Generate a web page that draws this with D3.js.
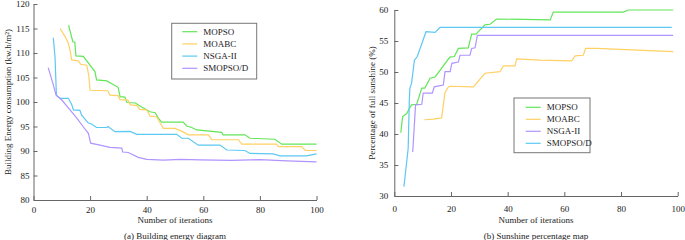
<!DOCTYPE html>
<html>
<head>
<meta charset="utf-8">
<script src="https://cdn.jsdelivr.net/npm/d3@7"></script>
<style>
    body { margin: 0; background: #fff; }
    text { font-family: "Liberation Serif", "Times New Roman", serif; fill: #222; }
    .axis path, .axis line { stroke: #666; }
</style>
</head>
<body>
<div id="chart"></div>
<script>
// ---- data ([iteration, value]) ----
const algorithms = ["MOPSO", "MOABC", "NSGA-II", "SMOPSO/D"];

// (a) building energy consumption
const energyMOPSO = [[12.4,115.7],[13.9,112.3],[14.6,112.2],[15,109.4],[17.6,109.3],[21.7,106.2],[22.3,104.5],[25.9,104.3],[29.9,103],[30.6,101.1],[32.3,101],[33,99.9],[36,99.8],[38.2,99.0],[41.2,98.0],[43,97.8],[44.1,96.7],[45.3,95.9],[52.9,95.9],[54.1,95.1],[55.9,94.8],[57.7,94.3],[66.5,93.8],[67,93.3],[74.7,93.3],[76.5,92.6],[85.3,92.4],[87.7,91.4],[100,91.4]];
const energyMOABC = [[9.4,115],[11.2,113.3],[12.3,112],[12.9,110.6],[13.5,108.6],[15.8,108.4],[16.7,107.7],[18.8,107.5],[19.5,105.5],[20,102.4],[26.2,102.3],[27,101.4],[29.9,101.3],[30.6,100.5],[33.4,100.4],[34.2,99.4],[36.5,99.3],[37.5,98.5],[40,98.4],[41.2,97.1],[43.5,97],[45.9,94.6],[50,94.6],[52.9,93.9],[54.7,93.3],[61.8,93.3],[63,92.3],[72.4,92.3],[73.6,91.4],[85.9,91.4],[86.5,90.9],[94.8,90.9],[96,90.1],[100,90.1]];
const energyNSGA = [[7,113.1],[7.6,109.2],[7.9,104.5],[8.1,101.4],[8.8,101],[9.5,100.75],[12.3,100.75],[13.5,99.5],[14.1,98.4],[16.4,98.3],[17,97.3],[18.2,96.5],[19.4,95.7],[20.5,95.5],[22.3,94.8],[25.9,94.8],[26.3,95],[28.8,93.95],[34.1,94],[36.5,93.4],[50.6,93.4],[52.4,92.6],[54.7,92.6],[58.2,91.2],[65.9,91.2],[68.3,90.2],[74.7,90.1],[76.5,89.5],[84.7,89.4],[87.1,89],[96.5,89],[100,89.4]];
const energySMOPSOD = [[5.2,107],[7,103.5],[8,101.4],[10,100.4],[12.9,98.4],[15.3,96.7],[17.5,95],[19.4,93.6],[20.2,91.6],[23.5,91.2],[27,90.75],[31.2,90.6],[31.5,89.8],[33.5,89.7],[37,88.7],[40,88.3],[45.9,88.15],[52,88.3],[58.8,88.2],[70,88.1],[80,88.25],[89.5,88],[100,87.8]];

// (b) percentage of full sunshine
const sunMOPSO = [[2.3,40.2],[2.6,41.5],[2.95,42.8],[4.4,43.3],[5.3,44.1],[6.1,44.7],[7.9,44.8],[9.7,47.4],[10.8,47.4],[12.6,49],[14.4,49.2],[19.6,52.4],[21.2,52.5],[22.6,53.8],[26.1,53.9],[27.3,56.1],[28.8,56.1],[32,57.6],[33.8,57.7],[36.1,58.55],[55,58.4],[56.1,59.65],[80.8,59.65],[82.5,60],[98.4,60]];
const sunMOABC = [[10.6,42.3],[13.7,42.4],[16.7,42.6],[17.9,46.7],[19.1,47.6],[19.7,47.7],[27.9,47.6],[32,49.8],[37.3,50.05],[38.5,51],[42.6,51],[43.2,52.1],[51.4,51.9],[62.6,51.8],[63.8,52.6],[66.7,52.7],[67.5,53.8],[71.4,53.8],[98.4,53.3]];
const sunNSGA = [[6.5,37.1],[7.5,44.7],[9.7,44.8],[10.2,46.6],[13.4,46.6],[14.1,47.6],[17.3,47.9],[17.9,50.05],[19.7,50.05],[20.3,51.4],[22.6,51.6],[23.2,52.7],[26.7,52.7],[27.3,53.8],[28.5,53.9],[29.3,55.9],[98.4,55.9]];
const sunSMOPSOD = [[3.4,31.5],[4.9,37.7],[5.3,45.5],[5.5,47.4],[6.1,48.2],[7.1,51.9],[8.1,52.5],[11.2,56.5],[14.4,56.4],[16.1,57.2],[97.9,57.2]];

const xTicks = [0, 20, 40, 60, 80, 100];
const energyTicks = [80, 85, 90, 95, 100, 105, 110, 115, 120];
const sunTicks = [30, 35, 40, 45, 50, 55, 60];

// colours (note: NSGA-II / SMOPSO/D swap colours between the two panels, as in the original)
const green = "#62e658", orange = "#ffd064", cyan = "#5cc8f4", purple = "#b094ff";


class StepChart {

    constructor(svg, opts) {
        this.svg = svg;
        this.opts = opts;
        this.initVis();
    }

    initVis() {
        let vis = this;
        let o = vis.opts;

        vis.x = d3.scaleLinear().domain([0, 100]).range([o.left, o.right]);
        vis.y = d3.scaleLinear().domain(o.yDomain).range([o.bottom, o.top]);

        vis.g = vis.svg.append("g");

        // axes, ticks point inward
        vis.g.append("g")
            .attr("class", "axis")
            .attr("transform", `translate(0,${o.bottom})`)
            .call(d3.axisBottom(vis.x).tickValues(xTicks).tickSizeInner(-4).tickSizeOuter(0).tickPadding(o.xPad))
            .call(g => g.selectAll("text").attr("font-size", 9).attr("font-family", null));

        vis.g.append("g")
            .attr("class", "axis")
            .attr("transform", `translate(${o.left},0)`)
            .call(d3.axisLeft(vis.y).tickValues(o.yTicks).tickSizeInner(-4).tickSizeOuter(0).tickPadding(o.yPad))
            .call(g => g.selectAll("text").attr("font-size", 9).attr("font-family", null));

        // lines
        let line = d3.line()
            .x(d => vis.x(d[0]))
            .y(d => vis.y(d[1]));

        o.series.forEach(s => {
            vis.g.append("path")
                .datum(s.data)
                .attr("fill", "none")
                .attr("stroke", s.color)
                .attr("stroke-width", 1.2)
                .attr("d", line);
        });

        // titles
        let cx = (o.left + o.right) / 2;
        vis.g.append("text")
            .attr("x", cx).attr("y", o.xTitleY)
            .attr("text-anchor", "middle")
            .attr("font-size", 9)
            .text("Number of iterations");

        vis.g.append("text")
            .attr("x", cx).attr("y", o.captionY)
            .attr("text-anchor", "middle")
            .attr("font-size", 9)
            .text(o.caption);

        vis.g.append("text")
            .attr("transform", `translate(${o.yTitleX},${(o.top + o.bottom) / 2}) rotate(-90)`)
            .attr("text-anchor", "middle")
            .attr("dominant-baseline", "central")
            .attr("font-size", 9)
            .text(o.yTitle);

        vis.drawLegend();
    }

    drawLegend() {
        let vis = this;
        let L = vis.opts.legend;

        let lg = vis.g.append("g").attr("class", "legend");

        lg.append("rect")
            .attr("x", L.x).attr("y", L.y)
            .attr("width", L.w).attr("height", L.h)
            .attr("fill", "#fff")
            .attr("stroke", "#777")
            .attr("stroke-width", 1);

        vis.opts.series.forEach((s, i) => {
            let ry = L.y + L.first + i * L.step;
            lg.append("line")
                .attr("x1", L.x + L.lineStart).attr("x2", L.x + L.lineStart + 15)
                .attr("y1", ry).attr("y2", ry)
                .attr("stroke", s.color)
                .attr("stroke-width", 1.2);
            lg.append("text")
                .attr("x", L.x + L.textStart).attr("y", ry)
                .attr("dominant-baseline", "central")
                .attr("font-size", 9)
                .text(s.name);
        });
    }
}


let svg = d3.select("#chart").append("svg")
    .attr("width", 685)
    .attr("height", 240);

new StepChart(svg, {
    left: 33.5, right: 316.5, top: 4, bottom: 200,
    yDomain: [80, 120], yTicks: energyTicks,
    xPad: 7, yPad: 4,
    xTitleY: 223, captionY: 239, yTitleX: 8,
    caption: "(a) Building energy diagram",
    yTitle: "Building Energy consumption (kw.h/m\u00B2)",
    series: [
        {name: algorithms[0], color: green, data: energyMOPSO},
        {name: algorithms[1], color: orange, data: energyMOABC},
        {name: algorithms[2], color: cyan, data: energyNSGA},
        {name: algorithms[3], color: purple, data: energySMOPSOD}
    ],
    legend: {x: 171.7, y: 23.3, w: 85, h: 55.7, first: 8.4, step: 12.2, lineStart: 10.6, textStart: 31.5}
});

new StepChart(svg, {
    left: 394.3, right: 677.7, top: 10, bottom: 196,
    yDomain: [30, 60], yTicks: sunTicks,
    xPad: 10, yPad: 6,
    xTitleY: 222.5, captionY: 238.5, yTitleX: 371.7,
    caption: "(b) Sunshine percentage map",
    yTitle: "Percentage of full sunshine (%)",
    series: [
        {name: algorithms[0], color: green, data: sunMOPSO},
        {name: algorithms[1], color: orange, data: sunMOABC},
        {name: algorithms[2], color: purple, data: sunNSGA},
        {name: algorithms[3], color: cyan, data: sunSMOPSOD}
    ],
    legend: {x: 514, y: 98, w: 76, h: 54.7, first: 9.3, step: 12, lineStart: 11.7, textStart: 32.7}
});
</script>
</body>
</html>
